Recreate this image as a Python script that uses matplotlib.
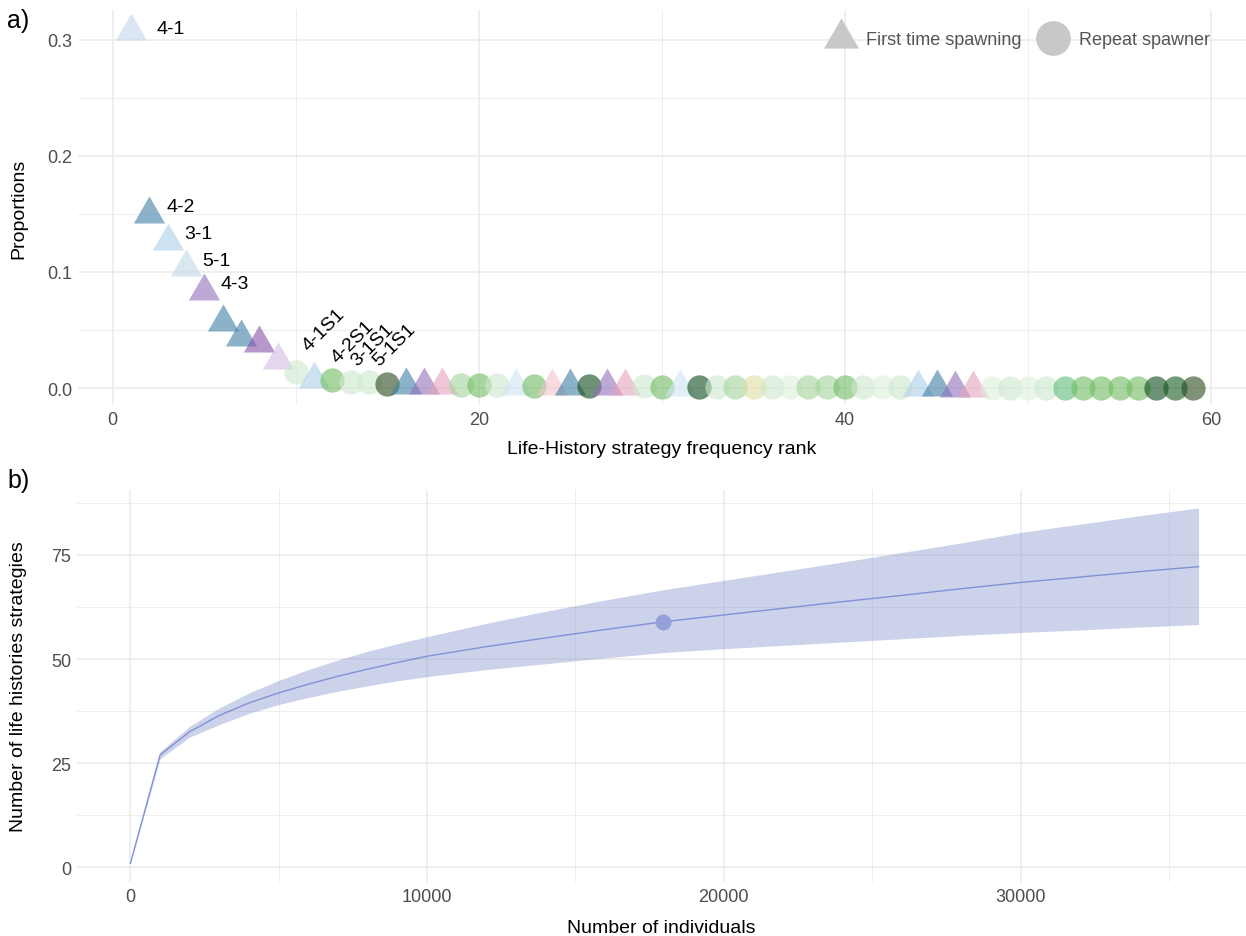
import matplotlib.pyplot as plt
from matplotlib.lines import Line2D
from matplotlib.ticker import MultipleLocator

plt.rcParams['font.family'] = ['Liberation Sans', 'DejaVu Sans']

# ---- panel a: life-history strategy frequency ----
ranks = list(range(1, 60))
proportions = [0.307, 0.150, 0.127, 0.104, 0.084, 0.057, 0.044, 0.039, 0.024, 0.014,
               0.008, 0.007, 0.005, 0.005, 0.0035, 0.0030, 0.0029, 0.0027, 0.0026, 0.0024,
               0.0023, 0.0022, 0.0021, 0.0020, 0.0019, 0.0018, 0.0017, 0.0016, 0.0015, 0.0014,
               0.0013, 0.0012, 0.0011, 0.0011, 0.0010, 0.0010, 0.0009, 0.0009, 0.0008, 0.0008,
               0.0007, 0.0007, 0.0006, 0.0006, 0.0006, 0.0005, 0.0005, 0.0005, 0.0004, 0.0004,
               0.0004, 0.0003, 0.0003, 0.0003, 0.0002, 0.0002, 0.0002, 0.0001, 0.0001]
# F = first time spawning, R = repeat spawner
spawning = list("FFFFFFFFF" "R" "F" "RRRR" "FFF" "RRR" "F" "R" "FF" "R" "FF" "RR" "F" "R"
                "RRRRRRRRRRR" "FFFF" "RRRRRRRRRRRR")
groups = ['pale_blue', 'steel', 'light_blue', 'pale_blue2', 'purple', 'steel', 'steel', 'purple2',
          'lilac', 'pale_green', 'light_blue', 'mid_green', 'pale_green', 'pale_green', 'olive',
          'steel', 'purple', 'pink', 'light_green', 'mid_green', 'pale_green', 'ice_blue',
          'mid_green', 'pale_pink', 'steel', 'dark_green', 'purple', 'pink', 'pale_green',
          'mid_green', 'ice_blue', 'dark_green', 'pale_green', 'light_green', 'yellow',
          'pale_green', 'ghost_green', 'light_green', 'light_green', 'mid_green', 'pale_green',
          'ghost_green', 'pale_green', 'light_blue', 'steel', 'purple', 'pink', 'ghost_green',
          'pale_green', 'ghost_green', 'pale_green', 'teal_green', 'mid_green', 'mid_green',
          'mid_green', 'mid_green', 'dark_green', 'forest', 'olive']

palette = {
    'pale_blue': '#c5d5ee', 'pale_blue2': '#c0d8e8', 'light_blue': '#acd0e8',
    'ice_blue': '#cfe5f5', 'steel': '#3f7fa7', 'purple': '#9371bc', 'purple2': '#8a52a8',
    'lilac': '#d5bce6', 'pink': '#e6a3bc', 'pale_pink': '#f4c4cc',
    'pale_green': '#cde9cd', 'ghost_green': '#def0de', 'light_green': '#a3d59b',
    'mid_green': '#71bc61', 'teal_green': '#61bc7a', 'yellow': '#dedea3',
    'dark_green': '#0d4a1a', 'forest': '#145a1c', 'olive': '#2a4a1e',
}

top_labels = ['4-1', '4-2', '3-1', '5-1', '4-3']
top_label_ranks = [1, 2, 3, 4, 5]
repeat_labels = ['4-1S1', '4-2S1', '3-1S1', '5-1S1']
repeat_label_ranks = [10, 12, 13, 14]

# ---- panel b: rarefaction / extrapolation ----
n_individuals = [1, 1000, 2000, 3000, 4000, 5000, 6000, 7000, 8000, 9000, 10000, 12000,
                 14000, 16000, 18000, 20000, 22000, 24000, 26000, 28000, 30000, 32000,
                 34000, 36000]
richness = [1, 27.0, 32.6, 36.5, 39.5, 41.9, 44.0, 45.9, 47.6, 49.2, 50.7, 53.0,
            55.1, 57.1, 59.0, 60.6, 62.2, 63.8, 65.3, 66.9, 68.4, 69.7, 71.0, 72.2]
richness_lo = [1, 26.1, 31.3, 34.3, 37.0, 39.1, 40.8, 42.3, 43.6, 44.8, 45.8, 47.5,
               48.9, 50.3, 51.6, 52.5, 53.3, 54.1, 54.9, 55.7, 56.4, 57.0, 57.7, 58.3]
richness_hi = [1, 27.8, 33.9, 38.3, 41.9, 44.9, 47.5, 49.8, 51.9, 53.7, 55.4, 58.6,
               61.5, 64.2, 66.7, 68.9, 71.1, 73.3, 75.6, 77.9, 80.4, 82.4, 84.4, 86.3]
observed_n = 17950
observed_richness = 59.0

tick_col = '#4d4d4d'
grid_col = '#ebebeb'

# triangle with its centroid at the data point (like ggplot shape 17)
tri = [(0, 1), (-0.866, -0.5), (0.866, -0.5), (0, 1)]


def style_axes(ax):
    for s in ax.spines.values():
        s.set_visible(False)
    ax.grid(True, which='major', color=grid_col, lw=1.1)
    ax.grid(True, which='minor', color=grid_col, lw=0.6)
    ax.set_axisbelow(True)
    ax.tick_params(which='both', length=0, labelsize=13, labelcolor=tick_col, pad=4)


fig = plt.figure(figsize=(12.46, 9.37), dpi=100)
ax1 = fig.add_axes([0.0626, 0.5667, 0.9374, 0.4216])
ax2 = fig.add_axes([0.0618, 0.0576, 0.9382, 0.4184])

# panel a
style_axes(ax1)
for i, (r, p, s, g) in enumerate(zip(ranks, proportions, spawning, groups)):
    if s == 'F':
        ax1.scatter(r, p, marker=tri, s=26 ** 2, color=palette[g], alpha=0.6,
                    linewidths=0, zorder=3 + i * 0.01)
    else:
        ax1.scatter(r, p, marker='o', s=17.5 ** 2, color=palette[g], alpha=0.6,
                    linewidths=0, zorder=3 + i * 0.01)

for lab, r in zip(top_labels, top_label_ranks):
    dx, dy = (18, 2) if r == 1 else (12, 5)
    ax1.annotate(lab, (r, proportions[r - 1]), xytext=(dx, dy), textcoords='offset points',
                 ha='left', va='center', fontsize=14, color='black', zorder=10)

# offsets (points) of the rotated labels, ggrepel-like
rot_offsets = [(11.5, 13), (6, 10), (7, 10), (9.5, 10)]
for lab, r, off in zip(repeat_labels, repeat_label_ranks, rot_offsets):
    ax1.annotate(lab, (r, proportions[r - 1]), xytext=off, textcoords='offset points',
                 ha='left', va='bottom', rotation=45, rotation_mode='anchor',
                 fontsize=14, color='black', zorder=10)

ax1.set_xlim(-1.9, 61.9)
ax1.set_ylim(-0.0145, 0.3255)
ax1.xaxis.set_major_locator(MultipleLocator(20))
ax1.xaxis.set_minor_locator(MultipleLocator(10))
ax1.yaxis.set_major_locator(MultipleLocator(0.1))
ax1.yaxis.set_minor_locator(MultipleLocator(0.05))
ax1.set_xlabel('Life-History strategy frequency rank', fontsize=14, va='top')
ax1.set_ylabel('Proportions', fontsize=14)
ax1.xaxis.set_label_coords(0.5, -0.088)
ax1.yaxis.set_label_coords(-0.043, 0.5)

handles = [Line2D([], [], marker=tri, ls='none', ms=29, color='#c8c8c8', mew=0),
           Line2D([], [], marker='o', ls='none', ms=25, color='#c8c8c8', mew=0)]
leg = ax1.legend(handles, ['First time spawning', 'Repeat spawner'], ncol=2,
                 loc='center right', bbox_to_anchor=(0.975, 0.925), frameon=False,
                 fontsize=13, handlelength=1.3, handletextpad=0.75, columnspacing=1.1,
                 borderaxespad=0)
for t in leg.get_texts():
    t.set_color('#555555')

# panel b
style_axes(ax2)
ax2.fill_between(n_individuals, richness_lo, richness_hi, color='#7b8bca', alpha=0.38,
                 lw=0, zorder=2)
ax2.plot(n_individuals, richness, color='#8290d6', lw=1.0, zorder=3)
ax2.scatter([observed_n], [observed_richness], s=11.5 ** 2, color='#96a0d8', zorder=4,
            linewidths=0)
ax2.set_xlim(-1800, 37600)
ax2.set_ylim(-3.5, 90.6)
ax2.xaxis.set_major_locator(MultipleLocator(10000))
ax2.xaxis.set_minor_locator(MultipleLocator(5000))
ax2.yaxis.set_major_locator(MultipleLocator(25))
ax2.yaxis.set_minor_locator(MultipleLocator(12.5))
ax2.set_xlabel('Number of individuals', fontsize=14, va='top')
ax2.set_ylabel('Number of life histories strategies', fontsize=14)
ax2.xaxis.set_label_coords(0.5, -0.095)
ax2.yaxis.set_label_coords(-0.043, 0.5)

fig.text(0.006, 0.99, 'a)', fontsize=18, va='top', ha='left')
fig.text(0.006, 0.499, 'b)', fontsize=18, va='top', ha='left')

fig.savefig('out.png', dpi=100)
